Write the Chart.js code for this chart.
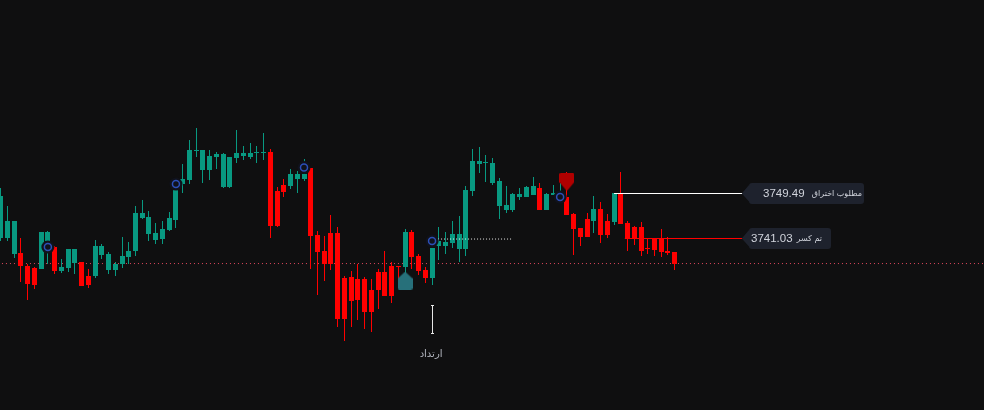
<!DOCTYPE html>
<html><head><meta charset="utf-8">
<style>html,body{margin:0;padding:0;background:#0f0f10;overflow:hidden}#wrap{width:984px;height:410px}canvas{display:block}</style>
<script src="https://cdn.jsdelivr.net/npm/chart.js@4/dist/chart.umd.min.js"></script>
</head><body><div id="wrap"><canvas id="c" width="984" height="410"></canvas></div>
<script>
const opens=[3741.12,3741.12,3738.11,3738.30,3735.85,3735.48,3735.29,3740.55,3739.42,3734.91,3735.48,3736.42,3736.60,3733.97,3733.97,3737.92,3735.10,3735.10,3736.23,3737.54,3738.67,3744.88,3741.87,3740.74,3740.93,3742.62,3744.50,3751.27,3752.02,3757.47,3753.90,3753.90,3756.34,3750.70,3750.70,3756.16,3756.53,3756.34,3757.10,3757.10,3757.28,3749.95,3751.08,3750.89,3752.21,3752.21,3754.28,3741.68,3738.67,3742.06,3742.06,3733.60,3733.78,3733.41,3733.41,3731.34,3734.72,3734.72,3735.85,3735.85,3735.66,3742.24,3737.73,3735.10,3733.60,3739.61,3739.61,3740.18,3739.05,3739.05,3749.95,3755.03,3755.22,3751.46,3747.13,3746.38,3746.38,3748.82,3748.82,3749.20,3750.52,3746.38,3749.20,3749.20,3748.82,3745.63,3743.00,3744.69,3744.31,3746.57,3744.31,3744.12,3749.39,3743.94,3743.18,3743.18,3739.24,3740.93,3740.93,3738.67,3738.48];
const highs=[3750.52,3747.13,3744.31,3741.12,3736.23,3735.66,3742.24,3742.43,3739.61,3737.17,3739.05,3739.05,3736.60,3735.29,3740.74,3739.99,3738.48,3736.60,3741.30,3740.36,3747.13,3748.26,3746.19,3743.94,3744.31,3746.00,3750.14,3755.03,3759.54,3761.80,3757.66,3757.66,3757.28,3757.10,3756.34,3761.42,3758.41,3758.98,3758.41,3760.86,3757.85,3750.70,3752.21,3754.09,3753.71,3755.97,3754.28,3742.43,3741.49,3745.44,3743.18,3733.97,3734.91,3736.23,3733.78,3733.41,3735.29,3738.67,3736.60,3735.85,3742.81,3742.62,3738.11,3735.66,3739.24,3743.18,3742.24,3744.31,3745.25,3750.89,3757.85,3758.22,3756.72,3756.16,3752.40,3750.89,3749.58,3750.52,3750.89,3752.58,3751.46,3749.58,3751.08,3751.46,3753.52,3745.82,3743.00,3745.82,3749.01,3747.88,3745.63,3749.58,3753.52,3744.31,3743.37,3744.12,3740.93,3740.93,3742.81,3741.30,3738.48];
const lows=[3740.55,3740.55,3737.36,3732.84,3729.46,3731.53,3735.29,3736.23,3734.35,3734.54,3734.72,3734.35,3732.09,3731.72,3733.60,3737.17,3734.35,3733.97,3735.48,3736.23,3737.73,3744.69,3740.55,3739.99,3739.99,3742.43,3743.00,3749.58,3751.27,3756.34,3751.46,3752.02,3754.09,3750.52,3750.52,3755.22,3755.78,3755.97,3755.22,3755.78,3741.12,3743.18,3748.82,3750.33,3749.58,3751.83,3735.29,3730.40,3733.03,3735.10,3724.38,3721.75,3724.38,3725.70,3724.01,3723.44,3727.77,3730.21,3728.90,3733.22,3734.16,3735.29,3734.16,3732.66,3732.28,3736.98,3738.11,3739.24,3736.60,3737.73,3749.01,3753.34,3751.64,3751.08,3744.69,3745.82,3746.00,3748.26,3748.82,3749.20,3746.38,3746.38,3749.20,3749.01,3745.44,3737.92,3739.61,3741.30,3742.06,3740.18,3741.12,3743.56,3743.75,3738.67,3739.80,3737.73,3738.11,3737.73,3737.54,3737.92,3735.10];
const closes=[3749.01,3744.31,3744.31,3735.85,3732.47,3732.28,3742.24,3742.24,3734.91,3735.66,3739.05,3739.05,3732.09,3732.28,3739.61,3739.61,3738.11,3736.23,3737.73,3738.67,3745.82,3745.82,3745.06,3742.06,3742.81,3744.88,3750.14,3752.21,3757.66,3757.66,3757.66,3756.53,3756.91,3756.91,3756.34,3757.10,3757.10,3757.10,3757.28,3757.28,3743.37,3743.37,3749.76,3753.15,3753.15,3753.15,3741.49,3738.48,3736.23,3736.23,3725.89,3725.89,3729.27,3729.46,3727.20,3727.20,3731.34,3730.21,3730.21,3735.66,3742.24,3737.54,3734.91,3733.60,3739.24,3740.55,3740.36,3741.87,3741.87,3750.14,3755.59,3755.59,3755.40,3755.22,3751.83,3747.32,3749.39,3749.39,3750.70,3750.89,3746.38,3749.39,3749.58,3749.76,3745.44,3742.81,3741.30,3741.30,3746.57,3741.68,3741.68,3749.58,3743.75,3740.93,3740.93,3738.67,3739.05,3738.86,3738.48,3738.30,3736.23];
const signalIdx=[7,26,45,64,83];
const signalPrices=[3739.42,3751.27,3754.37,3740.55,3748.82];
const basePrice=3736.32;
const levelPrices=[3749.49,3741.03];
const levelStart=[91,92.6];
const levelEnd=110.4;
const levelLabels=['مطلوب اختراق','تم كسر'];
const levelValues=['3749.49','3741.03'];
const entryPrice=3740.93, entryStart=64, entryEnd=75.8;
const arrowIdx=64, arrowTop=3728.52, arrowBottom=3723.26;
const arrowText='ارتداد', arrowTextPrice=3719.3;
const upMarker={x:60,y:3733.13};
const downMarker={x:84,y:3751.64};

const GREEN='#089981',RED='#ff0000',BG='#0f0f10';
const idx=opens.map((_,i)=>i);
const barColors=opens.map((o,i)=>closes[i]>=o?GREEN:RED);

function markerCanvas(up,color){
  const c=document.createElement('canvas');c.width=15;c.height=18;
  const g=c.getContext('2d');g.fillStyle=color;g.beginPath();
  if(up){g.moveTo(7.5,0);g.lineTo(15,7);g.lineTo(15,17);g.lineTo(13.5,18);g.lineTo(1.5,18);g.lineTo(0,17);g.lineTo(0,7);}
  else{g.moveTo(1,0);g.lineTo(14,0);g.lineTo(15,1);g.lineTo(15,9);g.lineTo(7.5,18);g.lineTo(0,9);g.lineTo(0,1);}
  g.closePath();g.fill();return c;
}
const snap={id:'snap',afterDatasetsUpdate(chart){
  chart.data.datasets.forEach((d,i)=>{ if(d.type!=='bar')return;
    chart.getDatasetMeta(i).data.forEach(el=>{
      el.x=Math.floor(el.x)+0.5;
      el.y=Math.round(el.y);el.base=Math.round(el.base);
      if(el.base===el.y)el.base=el.y+1;
      el.height=Math.abs(el.base-el.y);
    });
  });
}};
const labels={id:'labels',afterDatasetsDraw(chart){
  const {ctx,scales:{x,y}}=chart;
  const boxes=[{left:749,right:864,numX:763,textX:862},{left:749,right:831,numX:751,textX:822}];
  levelPrices.forEach((p,i)=>{
    const py=y.getPixelForValue(p),tip=x.getPixelForValue(levelEnd)-3,b=boxes[i];
    const top=py-10.5,bot=py+10.5;
    ctx.save();ctx.fillStyle='#1e222d';ctx.beginPath();
    ctx.moveTo(tip,py);ctx.lineTo(b.left,top+2);
    ctx.arcTo(b.left,top,b.left+3,top,3);ctx.arcTo(b.right,top,b.right,top+3,3);
    ctx.arcTo(b.right,bot,b.right-3,bot,3);ctx.arcTo(b.left,bot,b.left,bot-3,3);
    ctx.lineTo(b.left,py+8);ctx.closePath();ctx.fill();
    ctx.textBaseline='middle';ctx.fillStyle='#d1d4dc';
    ctx.font='11.5px "Liberation Sans", Arial, sans-serif';ctx.textAlign='left';
    ctx.fillText(levelValues[i],b.numX,py+0.5);
    ctx.font='8px "DejaVu Sans", "Noto Sans", sans-serif';ctx.direction='rtl';ctx.textAlign='right';
    ctx.fillText(levelLabels[i],b.textX,py+0.5);
    ctx.restore();
  });
  ctx.save();ctx.fillStyle='#b2b5be';ctx.font='10px "DejaVu Sans", sans-serif';ctx.textAlign='center';ctx.textBaseline='middle';ctx.direction='rtl';
  ctx.fillText(arrowText,x.getPixelForValue(arrowIdx)-1,y.getPixelForValue(arrowTextPrice));
  const ax=Math.floor(x.getPixelForValue(arrowIdx))+.5,t=Math.round(y.getPixelForValue(arrowTop)),bo=Math.round(y.getPixelForValue(arrowBottom));
  ctx.fillStyle='#e6e6e6';ctx.fillRect(ax-.5,t,1,bo-t);ctx.fillRect(ax-1.5,t,3,1);ctx.fillRect(ax-1.5,bo,3,1);
  ctx.restore();
}};
const line=(data,color,w,dash,order)=>({type:'line',data,borderColor:color,borderWidth:w,borderDash:dash||[],pointRadius:0,fill:false,order,tension:0});

new Chart(document.getElementById('c'),{
  type:'bar',
  plugins:[snap,labels],
  data:{datasets:[
    {type:'line',showLine:false,data:[upMarker],pointStyle:markerCanvas(true,'#27707a'),order:1,pointRadius:9},
    {type:'line',showLine:false,data:[downMarker],pointStyle:markerCanvas(false,'#b00000'),order:1,pointRadius:9},
    {type:'line',showLine:false,data:signalIdx.map((v,i)=>({x:v,y:signalPrices[i]})),pointStyle:'circle',pointRadius:3.5,pointBorderWidth:1.5,pointBorderColor:'#2c4fb8',pointBackgroundColor:'rgba(0,0,0,0)',order:2},
    {type:'line',showLine:false,data:signalIdx.map((v,i)=>({x:v,y:signalPrices[i]})),pointStyle:'circle',pointRadius:6.5,pointBorderWidth:0,pointBackgroundColor:'#10121b',order:3},
    line([{x:levelStart[0],y:levelPrices[0]},{x:levelEnd,y:levelPrices[0]}],'#ffffff',1,[],5),
    line([{x:levelStart[1],y:levelPrices[1]},{x:levelEnd,y:levelPrices[1]}],'#ff0000',1,[],5),
    line([{x:entryStart,y:entryPrice},{x:entryEnd,y:entryPrice}],'rgba(255,255,255,.9)',1,[1,2],6),
    {type:'bar',data:idx.map(i=>({x:i,y:[Math.min(opens[i],closes[i]),Math.max(opens[i],closes[i])]})),backgroundColor:barColors,barThickness:5,grouped:false,borderWidth:0,inflateAmount:0,order:7},
    {type:'bar',data:idx.map(i=>({x:i,y:[lows[i],highs[i]]})),backgroundColor:barColors,barThickness:1,grouped:false,borderWidth:0,inflateAmount:0,order:8},
    line([{x:-1,y:basePrice},{x:147,y:basePrice}],'#e0485e',1,[1,3],9)
  ]},
  options:{
    responsive:false,animation:false,events:[],
    layout:{autoPadding:false,padding:0},
    plugins:{legend:{display:false},tooltip:{enabled:false},title:{display:false}},
    scales:{
      x:{type:'linear',display:false,offset:false,min:-0.104,max:145.89,grid:{display:false}},
      y:{type:'linear',display:false,min:3708.788,max:3785.868,grid:{display:false}}
    }
  }
});
</script></body></html>
